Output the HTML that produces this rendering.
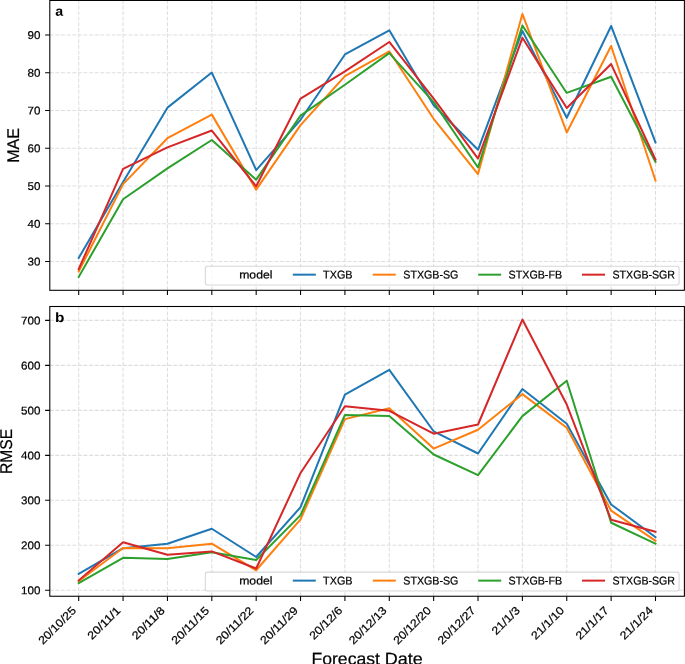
<!DOCTYPE html>
<html><head><meta charset="utf-8"><title>MAE and RMSE by forecast date</title>
<style>html,body{margin:0;padding:0;background:#fff;}
svg{display:block;will-change:transform;}
text{font-family:"Liberation Sans",sans-serif;fill:#000;text-rendering:geometricPrecision;stroke:#000;stroke-width:0.22px;}
.t{font-size:11.31px;}
.lab{font-size:16.96px;}
.let{font-size:13.60px;font-weight:bold;stroke-width:0;}
</style></head>
<body>
<svg width="685" height="664" viewBox="0 0 685 664">
<rect x="0" y="0" width="685" height="664" fill="#fff"/>
<defs>
<clipPath id="c1"><rect x="49.8" y="0.45" width="634.6" height="289.85"/></clipPath>
<clipPath id="c2"><rect x="49.8" y="306.5" width="634.6" height="289.75"/></clipPath>
</defs>
<path d="M78.70 290.30V0.45M123.07 290.30V0.45M167.44 290.30V0.45M211.81 290.30V0.45M256.18 290.30V0.45M300.55 290.30V0.45M344.92 290.30V0.45M389.28 290.30V0.45M433.65 290.30V0.45M478.02 290.30V0.45M522.39 290.30V0.45M566.76 290.30V0.45M611.13 290.30V0.45M655.50 290.30V0.45M49.80 261.51H684.40M49.80 223.77H684.40M49.80 186.03H684.40M49.80 148.29H684.40M49.80 110.55H684.40M49.80 72.81H684.40M49.80 35.07H684.40" fill="none" stroke="#b0b0b0" stroke-opacity="0.42" stroke-width="1.07" stroke-dasharray="3.92 1.697"/>
<g clip-path="url(#c1)" fill="none" stroke-width="2" stroke-linejoin="round" stroke-linecap="square">
<polyline points="78.70,257.96 123.07,182.07 167.44,107.64 211.81,72.55 256.18,170.07 300.55,119.80 344.92,54.47 389.28,30.28 433.65,105.27 478.02,149.80 522.39,30.88 566.76,117.76 611.13,25.97 655.50,142.48" stroke="#1f77b4"/>
<polyline points="78.70,271.51 123.07,184.14 167.44,138.21 211.81,114.63 256.18,189.65 300.55,125.19 344.92,76.13 389.28,51.26 433.65,118.82 478.02,174.07 522.39,13.94 566.76,132.44 611.13,45.98 655.50,180.60" stroke="#ff7f0e"/>
<polyline points="78.70,276.91 123.07,199.24 167.44,168.44 211.81,139.99 256.18,179.69 300.55,115.68 344.92,84.70 389.28,53.15 433.65,102.10 478.02,167.50 522.39,25.48 566.76,92.93 611.13,76.81 655.50,161.80" stroke="#2ca02c"/>
<polyline points="78.70,269.13 123.07,168.78 167.44,147.38 211.81,130.51 256.18,186.26 300.55,98.55 344.92,71.45 389.28,41.98 433.65,98.66 478.02,158.56 522.39,37.83 566.76,107.95 611.13,64.05 655.50,159.61" stroke="#d62728"/>
</g>
<rect x="49.8" y="0.45" width="634.6" height="289.85" fill="none" stroke="#000" stroke-width="1.07"/>
<path d="M78.70 290.30v4.67M123.07 290.30v4.67M167.44 290.30v4.67M211.81 290.30v4.67M256.18 290.30v4.67M300.55 290.30v4.67M344.92 290.30v4.67M389.28 290.30v4.67M433.65 290.30v4.67M478.02 290.30v4.67M522.39 290.30v4.67M566.76 290.30v4.67M611.13 290.30v4.67M655.50 290.30v4.67M49.80 261.51h-4.67M49.80 223.77h-4.67M49.80 186.03h-4.67M49.80 148.29h-4.67M49.80 110.55h-4.67M49.80 72.81h-4.67M49.80 35.07h-4.67" stroke="#000" stroke-width="1.07" fill="none"/>
<text transform="translate(40.46 265.56) rotate(0.1)" text-anchor="end" class="t" textLength="12.90" lengthAdjust="spacingAndGlyphs">30</text>
<text transform="translate(40.46 227.82) rotate(0.1)" text-anchor="end" class="t" textLength="12.90" lengthAdjust="spacingAndGlyphs">40</text>
<text transform="translate(40.46 190.08) rotate(0.1)" text-anchor="end" class="t" textLength="12.90" lengthAdjust="spacingAndGlyphs">50</text>
<text transform="translate(40.46 152.34) rotate(0.1)" text-anchor="end" class="t" textLength="12.90" lengthAdjust="spacingAndGlyphs">60</text>
<text transform="translate(40.46 114.60) rotate(0.1)" text-anchor="end" class="t" textLength="12.90" lengthAdjust="spacingAndGlyphs">70</text>
<text transform="translate(40.46 76.86) rotate(0.1)" text-anchor="end" class="t" textLength="12.90" lengthAdjust="spacingAndGlyphs">80</text>
<text transform="translate(40.46 39.12) rotate(0.1)" text-anchor="end" class="t" textLength="12.90" lengthAdjust="spacingAndGlyphs">90</text>
<text transform="translate(18.9 145.38) rotate(-90)" text-anchor="middle" class="lab" textLength="34.86" lengthAdjust="spacingAndGlyphs">MAE</text>
<text transform="translate(55.20 15.85) rotate(0.1)" class="let" textLength="7.90" lengthAdjust="spacingAndGlyphs">a</text>
<rect x="205.3" y="266.17" width="473.80" height="18.8" rx="2.1" ry="2.1" fill="#fff" fill-opacity="0.8" stroke="#ccc" stroke-opacity="0.8" stroke-width="1.07"/>
<text transform="translate(239.20 278.47) rotate(0.1)" class="t" textLength="33.22" lengthAdjust="spacingAndGlyphs">model</text>
<path d="M293.80 274.67h21.0" stroke="#1f77b4" stroke-width="2" stroke-linecap="square"/>
<text transform="translate(323.10 278.47) rotate(0.1)" class="t" textLength="29.42" lengthAdjust="spacingAndGlyphs">TXGB</text>
<path d="M373.80 274.67h21.0" stroke="#ff7f0e" stroke-width="2" stroke-linecap="square"/>
<text transform="translate(403.30 278.47) rotate(0.1)" class="t" textLength="55.08" lengthAdjust="spacingAndGlyphs">STXGB-SG</text>
<path d="M479.20 274.67h21.0" stroke="#2ca02c" stroke-width="2" stroke-linecap="square"/>
<text transform="translate(508.60 278.47) rotate(0.1)" class="t" textLength="53.50" lengthAdjust="spacingAndGlyphs">STXGB-FB</text>
<path d="M583.00 274.67h21.0" stroke="#d62728" stroke-width="2" stroke-linecap="square"/>
<text transform="translate(612.50 278.47) rotate(0.1)" class="t" textLength="62.49" lengthAdjust="spacingAndGlyphs">STXGB-SGR</text>
<path d="M78.70 596.25V306.50M123.07 596.25V306.50M167.44 596.25V306.50M211.81 596.25V306.50M256.18 596.25V306.50M300.55 596.25V306.50M344.92 596.25V306.50M389.28 596.25V306.50M433.65 596.25V306.50M478.02 596.25V306.50M522.39 596.25V306.50M566.76 596.25V306.50M611.13 596.25V306.50M655.50 596.25V306.50M49.80 590.30H684.40M49.80 545.31H684.40M49.80 500.33H684.40M49.80 455.35H684.40M49.80 410.37H684.40M49.80 365.38H684.40M49.80 320.40H684.40" fill="none" stroke="#b0b0b0" stroke-opacity="0.42" stroke-width="1.07" stroke-dasharray="3.92 1.697"/>
<g clip-path="url(#c2)" fill="none" stroke-width="2" stroke-linejoin="round" stroke-linecap="square">
<polyline points="78.70,573.97 123.07,548.24 167.44,543.70 211.81,528.76 256.18,557.01 300.55,507.17 344.92,394.67 389.28,369.88 433.65,431.28 478.02,453.50 522.39,389.00 566.76,423.73 611.13,504.43 655.50,537.17" stroke="#1f77b4"/>
<polyline points="78.70,581.21 123.07,548.01 167.44,548.24 211.81,543.70 256.18,570.28 300.55,519.31 344.92,419.14 389.28,408.30 433.65,448.56 478.02,429.75 522.39,394.13 566.76,427.68 611.13,510.59 655.50,540.77" stroke="#ff7f0e"/>
<polyline points="78.70,583.10 123.07,557.78 167.44,559.03 211.81,552.24 256.18,560.02 300.55,515.09 344.92,415.00 389.28,416.08 433.65,454.49 478.02,475.10 522.39,416.12 566.76,380.72 611.13,522.73 655.50,543.61" stroke="#2ca02c"/>
<polyline points="78.70,580.45 123.07,542.17 167.44,554.76 211.81,551.43 256.18,568.48 300.55,472.94 344.92,406.18 389.28,410.77 433.65,433.71 478.02,424.49 522.39,319.55 566.76,404.52 611.13,519.76 655.50,531.73" stroke="#d62728"/>
</g>
<rect x="49.8" y="306.5" width="634.6" height="289.75" fill="none" stroke="#000" stroke-width="1.07"/>
<path d="M78.70 596.25v4.67M123.07 596.25v4.67M167.44 596.25v4.67M211.81 596.25v4.67M256.18 596.25v4.67M300.55 596.25v4.67M344.92 596.25v4.67M389.28 596.25v4.67M433.65 596.25v4.67M478.02 596.25v4.67M522.39 596.25v4.67M566.76 596.25v4.67M611.13 596.25v4.67M655.50 596.25v4.67M49.80 590.30h-4.67M49.80 545.31h-4.67M49.80 500.33h-4.67M49.80 455.35h-4.67M49.80 410.37h-4.67M49.80 365.38h-4.67M49.80 320.40h-4.67" stroke="#000" stroke-width="1.07" fill="none"/>
<text transform="translate(40.46 594.35) rotate(0.1)" text-anchor="end" class="t" textLength="19.35" lengthAdjust="spacingAndGlyphs">100</text>
<text transform="translate(40.46 549.36) rotate(0.1)" text-anchor="end" class="t" textLength="19.35" lengthAdjust="spacingAndGlyphs">200</text>
<text transform="translate(40.46 504.38) rotate(0.1)" text-anchor="end" class="t" textLength="19.35" lengthAdjust="spacingAndGlyphs">300</text>
<text transform="translate(40.46 459.40) rotate(0.1)" text-anchor="end" class="t" textLength="19.35" lengthAdjust="spacingAndGlyphs">400</text>
<text transform="translate(40.46 414.42) rotate(0.1)" text-anchor="end" class="t" textLength="19.35" lengthAdjust="spacingAndGlyphs">500</text>
<text transform="translate(40.46 369.43) rotate(0.1)" text-anchor="end" class="t" textLength="19.35" lengthAdjust="spacingAndGlyphs">600</text>
<text transform="translate(40.46 324.45) rotate(0.1)" text-anchor="end" class="t" textLength="19.35" lengthAdjust="spacingAndGlyphs">700</text>
<text transform="translate(11.7 451.38) rotate(-90)" text-anchor="middle" class="lab" textLength="45.19" lengthAdjust="spacingAndGlyphs">RMSE</text>
<text transform="translate(54.90 321.90) rotate(0.1)" class="let" textLength="9.40" lengthAdjust="spacingAndGlyphs">b</text>
<rect x="205.3" y="572.12" width="473.80" height="18.8" rx="2.1" ry="2.1" fill="#fff" fill-opacity="0.8" stroke="#ccc" stroke-opacity="0.8" stroke-width="1.07"/>
<text transform="translate(239.20 584.42) rotate(0.1)" class="t" textLength="33.22" lengthAdjust="spacingAndGlyphs">model</text>
<path d="M293.80 580.62h21.0" stroke="#1f77b4" stroke-width="2" stroke-linecap="square"/>
<text transform="translate(323.10 584.42) rotate(0.1)" class="t" textLength="29.42" lengthAdjust="spacingAndGlyphs">TXGB</text>
<path d="M373.80 580.62h21.0" stroke="#ff7f0e" stroke-width="2" stroke-linecap="square"/>
<text transform="translate(403.30 584.42) rotate(0.1)" class="t" textLength="55.08" lengthAdjust="spacingAndGlyphs">STXGB-SG</text>
<path d="M479.20 580.62h21.0" stroke="#2ca02c" stroke-width="2" stroke-linecap="square"/>
<text transform="translate(508.60 584.42) rotate(0.1)" class="t" textLength="53.50" lengthAdjust="spacingAndGlyphs">STXGB-FB</text>
<path d="M583.00 580.62h21.0" stroke="#d62728" stroke-width="2" stroke-linecap="square"/>
<text transform="translate(612.50 584.42) rotate(0.1)" class="t" textLength="62.49" lengthAdjust="spacingAndGlyphs">STXGB-SGR</text>
<text transform="translate(76.80 611.20) rotate(-45)" text-anchor="end" class="t" textLength="47.92" lengthAdjust="spacingAndGlyphs">20/10/25</text>
<text transform="translate(121.17 611.20) rotate(-45)" text-anchor="end" class="t" textLength="41.13" lengthAdjust="spacingAndGlyphs">20/11/1</text>
<text transform="translate(165.54 611.20) rotate(-45)" text-anchor="end" class="t" textLength="41.13" lengthAdjust="spacingAndGlyphs">20/11/8</text>
<text transform="translate(209.91 611.20) rotate(-45)" text-anchor="end" class="t" textLength="47.92" lengthAdjust="spacingAndGlyphs">20/11/15</text>
<text transform="translate(254.28 611.20) rotate(-45)" text-anchor="end" class="t" textLength="47.92" lengthAdjust="spacingAndGlyphs">20/11/22</text>
<text transform="translate(298.65 611.20) rotate(-45)" text-anchor="end" class="t" textLength="47.92" lengthAdjust="spacingAndGlyphs">20/11/29</text>
<text transform="translate(343.02 611.20) rotate(-45)" text-anchor="end" class="t" textLength="41.13" lengthAdjust="spacingAndGlyphs">20/12/6</text>
<text transform="translate(387.38 611.20) rotate(-45)" text-anchor="end" class="t" textLength="47.92" lengthAdjust="spacingAndGlyphs">20/12/13</text>
<text transform="translate(431.75 611.20) rotate(-45)" text-anchor="end" class="t" textLength="47.92" lengthAdjust="spacingAndGlyphs">20/12/20</text>
<text transform="translate(476.12 611.20) rotate(-45)" text-anchor="end" class="t" textLength="47.92" lengthAdjust="spacingAndGlyphs">20/12/27</text>
<text transform="translate(520.49 611.20) rotate(-45)" text-anchor="end" class="t" textLength="34.34" lengthAdjust="spacingAndGlyphs">21/1/3</text>
<text transform="translate(564.86 611.20) rotate(-45)" text-anchor="end" class="t" textLength="41.13" lengthAdjust="spacingAndGlyphs">21/1/10</text>
<text transform="translate(609.23 611.20) rotate(-45)" text-anchor="end" class="t" textLength="41.13" lengthAdjust="spacingAndGlyphs">21/1/17</text>
<text transform="translate(653.60 611.20) rotate(-45)" text-anchor="end" class="t" textLength="41.13" lengthAdjust="spacingAndGlyphs">21/1/24</text>
<text transform="translate(311.50 664.40) rotate(0.1)" class="lab" textLength="68.40" lengthAdjust="spacingAndGlyphs">Forecast</text>
<text transform="translate(384.70 664.40) rotate(0.1)" class="lab" textLength="38.00" lengthAdjust="spacingAndGlyphs">Date</text>
</svg>
</body></html>
